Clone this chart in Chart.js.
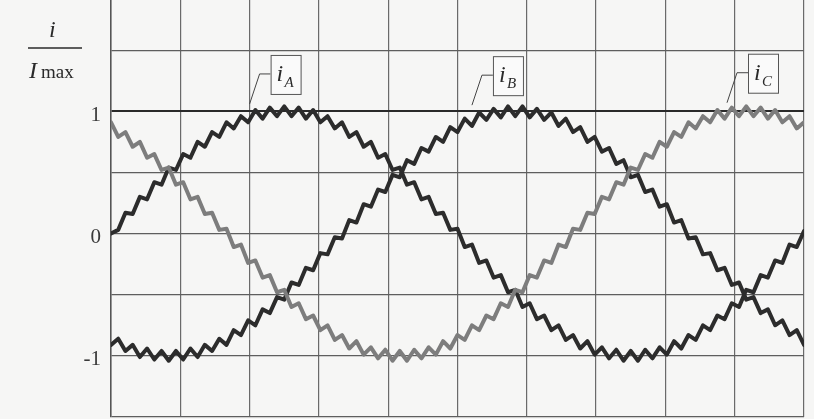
<!DOCTYPE html>
<html>
<head>
<meta charset="utf-8">
<script src="https://cdn.jsdelivr.net/npm/chart.js@4.4.0/dist/chart.umd.min.js"></script>
<style>
  html, body { margin: 0; padding: 0; background: #f6f6f5; }
  #wrap { width: 814px; height: 419px; }
</style>
</head>
<body>
<div id="wrap"><canvas id="currents" width="814" height="419"></canvas></div>
<script>
// electrical angle (deg) of every sample
var angle = [0,3.75,7.5,11.25,15,18.75,22.5,26.25,30,33.75,37.5,41.25,45,48.75,52.5,56.25,60,63.75,67.5,71.25,75,78.75,82.5,86.25,90,
  93.75,97.5,101.25,105,108.75,112.5,116.25,120,123.75,127.5,131.25,135,138.75,142.5,146.25,150,153.75,157.5,161.25,165,168.75,172.5,176.25,180,
  183.75,187.5,191.25,195,198.75,202.5,206.25,210,213.75,217.5,221.25,225,228.75,232.5,236.25,240,243.75,247.5,251.25,255,258.75,262.5,266.25,270,
  273.75,277.5,281.25,285,288.75,292.5,296.25,300,303.75,307.5,311.25,315,318.75,322.5,326.25,330,333.75,337.5,341.25,345,348.75,352.5,356.25,360];

// i / Imax
var iA = [0.00,0.03,0.17,0.16,0.30,0.28,0.42,0.40,0.54,0.52,0.65,0.62,0.75,0.71,0.83,0.79,0.91,0.86,0.96,0.91,1.01,0.94,1.03,0.96,1.04,
  0.96,1.03,0.94,1.01,0.91,0.96,0.86,0.91,0.79,0.83,0.71,0.75,0.62,0.65,0.52,0.54,0.40,0.42,0.28,0.30,0.16,0.17,0.03,0.04,
  -0.11,-0.09,-0.24,-0.22,-0.36,-0.34,-0.48,-0.46,-0.60,-0.57,-0.70,-0.67,-0.79,-0.75,-0.87,-0.83,-0.94,-0.88,-0.99,-0.93,-1.02,-0.95,-1.04,-0.96,
  -1.04,-0.95,-1.02,-0.93,-0.99,-0.88,-0.94,-0.83,-0.87,-0.75,-0.79,-0.67,-0.70,-0.57,-0.60,-0.46,-0.48,-0.34,-0.36,-0.22,-0.24,-0.09,-0.11,0.02];

var iB = [-0.91,-0.86,-0.96,-0.91,-1.01,-0.94,-1.03,-0.96,-1.04,-0.96,-1.03,-0.94,-1.01,-0.91,-0.96,-0.86,-0.91,-0.79,-0.83,-0.71,-0.75,-0.62,-0.65,-0.52,-0.54,
  -0.40,-0.42,-0.28,-0.30,-0.16,-0.17,-0.03,-0.04,0.11,0.09,0.24,0.22,0.36,0.34,0.48,0.46,0.60,0.57,0.70,0.67,0.79,0.75,0.87,0.83,
  0.94,0.88,0.99,0.93,1.02,0.95,1.04,0.96,1.04,0.95,1.02,0.93,0.99,0.88,0.94,0.83,0.87,0.75,0.79,0.67,0.70,0.57,0.60,0.46,
  0.48,0.34,0.36,0.22,0.24,0.09,0.11,-0.04,-0.03,-0.17,-0.16,-0.30,-0.28,-0.42,-0.40,-0.54,-0.52,-0.65,-0.62,-0.75,-0.71,-0.83,-0.79,-0.91];

var iC = [0.91,0.79,0.83,0.71,0.75,0.62,0.65,0.52,0.54,0.40,0.42,0.28,0.30,0.16,0.17,0.03,0.04,-0.11,-0.09,-0.24,-0.22,-0.36,-0.34,-0.48,-0.46,
  -0.60,-0.57,-0.70,-0.67,-0.79,-0.75,-0.87,-0.83,-0.94,-0.88,-0.99,-0.93,-1.02,-0.95,-1.04,-0.96,-1.04,-0.95,-1.02,-0.93,-0.99,-0.88,-0.94,-0.83,
  -0.87,-0.75,-0.79,-0.67,-0.70,-0.57,-0.60,-0.46,-0.48,-0.34,-0.36,-0.22,-0.24,-0.09,-0.11,0.04,0.03,0.17,0.16,0.30,0.28,0.42,0.40,0.54,
  0.52,0.65,0.62,0.75,0.71,0.83,0.79,0.91,0.86,0.96,0.91,1.01,0.94,1.03,0.96,1.04,0.96,1.03,0.94,1.01,0.91,0.96,0.86,0.91];

var yGrid = [-1.5, -1, -0.5, 0, 0.5, 1, 1.5];
var yLabels = { '1': '1', '0': '0', '-1': '-1' };

// where each curve name points to: [angle, value, subscript]
var callouts = [[72, 1.06, 'A'], [187.5, 1.05, 'B'], [320, 1.07, 'C']];

function pts(values) {
    return values.map(function(v, i) { return { x: angle[i], y: v }; });
}

var serif = '"Liberation Serif", "DejaVu Serif", serif';

var annotate = {
    id: 'annotate',
    afterDraw: function(chart) {
        var ctx = chart.ctx;
        var xs = chart.scales.x, ys = chart.scales.y;
        ctx.save();
        ctx.fillStyle = '#2a2a2a';
        ctx.strokeStyle = '#2a2a2a';

        // axis title  i / Imax
        ctx.font = 'italic 24px ' + serif;
        ctx.textBaseline = 'alphabetic';
        ctx.fillText('i', 49, 37);
        ctx.lineWidth = 1.6;
        ctx.beginPath();
        ctx.moveTo(28, 48);
        ctx.lineTo(82, 48);
        ctx.stroke();
        ctx.font = 'italic 24px ' + serif;
        ctx.fillText('I', 29, 78);
        ctx.font = '19px ' + serif;
        ctx.fillText('max', 41, 78);

        // boxed curve names with leader lines
        callouts.forEach(function(c) {
            var ax = xs.getPixelForValue(c[0]);
            var ay = ys.getPixelForValue(c[1]);
            var kx = ax + 10, ky = ay - 30;
            var bx = ax + 21, by = ky - 19;
            ctx.strokeStyle = '#444';
            ctx.lineWidth = 1;
            ctx.beginPath();
            ctx.moveTo(ax, ay);
            ctx.lineTo(kx, ky);
            ctx.lineTo(bx, ky);
            ctx.stroke();
            ctx.fillStyle = '#fafafa';
            ctx.fillRect(bx, by, 30, 39);
            ctx.strokeStyle = '#555';
            ctx.strokeRect(bx + 0.5, by + 0.5, 30, 39);
            ctx.fillStyle = '#2a2a2a';
            ctx.font = 'italic 24px ' + serif;
            ctx.fillText('i', bx + 6, by + 26);
            ctx.font = 'italic 15px ' + serif;
            ctx.fillText(c[2], bx + 14, by + 32);
        });
        ctx.restore();
    }
};

new Chart(document.getElementById('currents'), {
    type: 'line',
    data: {
        datasets: [{
            label: 'iC',
            data: pts(iC),
            borderColor: '#7d7d7d',
            borderWidth: 4
        }, {
            label: 'iB',
            data: pts(iB),
            borderColor: '#2c2c2c',
            borderWidth: 4
        }, {
            label: 'iA',
            data: pts(iA),
            borderColor: '#2c2c2c',
            borderWidth: 4
        }]
    },
    options: {
        responsive: false,
        animation: false,
        layout: { padding: { left: 0, right: 10, top: 0, bottom: 2 } },
        elements: {
            point: { radius: 0 },
            line: { tension: 0, borderJoinStyle: 'round', borderCapStyle: 'round' }
        },
        plugins: {
            legend: { display: false },
            tooltip: { enabled: false }
        },
        scales: {
            x: {
                type: 'linear',
                min: 0,
                max: 360,
                ticks: { display: false, stepSize: 36 },
                grid: { color: '#6a6a6a', lineWidth: 1.2, drawTicks: false },
                border: { display: false },
                afterFit: function(scale) { scale.height = 0; scale.paddingLeft = 0; scale.paddingRight = 0; }
            },
            y: {
                min: -1.5,
                max: 1.91,
                afterBuildTicks: function(scale) {
                    scale.ticks = yGrid.map(function(v) { return { value: v }; });
                },
                afterFit: function(scale) {
                    scale.width = 111;
                    scale.paddingTop = 0;
                    scale.paddingBottom = 0;
                },
                ticks: {
                    padding: 10,
                    labelOffset: 4,
                    color: '#3a3a3a',
                    font: { family: serif, size: 21 },
                    callback: function(v) { return yLabels[String(v)] || ''; }
                },
                grid: {
                    drawTicks: false,
                    color: function(c) { return c.tick && c.tick.value === 1 ? '#2a2a2a' : '#5e5e5e'; },
                    lineWidth: function(c) { return c.tick && c.tick.value === 1 ? 2 : 1.2; }
                },
                border: { display: true, color: '#555', width: 1.5 }
            }
        }
    },
    plugins: [annotate]
});
</script>
</body>
</html>
